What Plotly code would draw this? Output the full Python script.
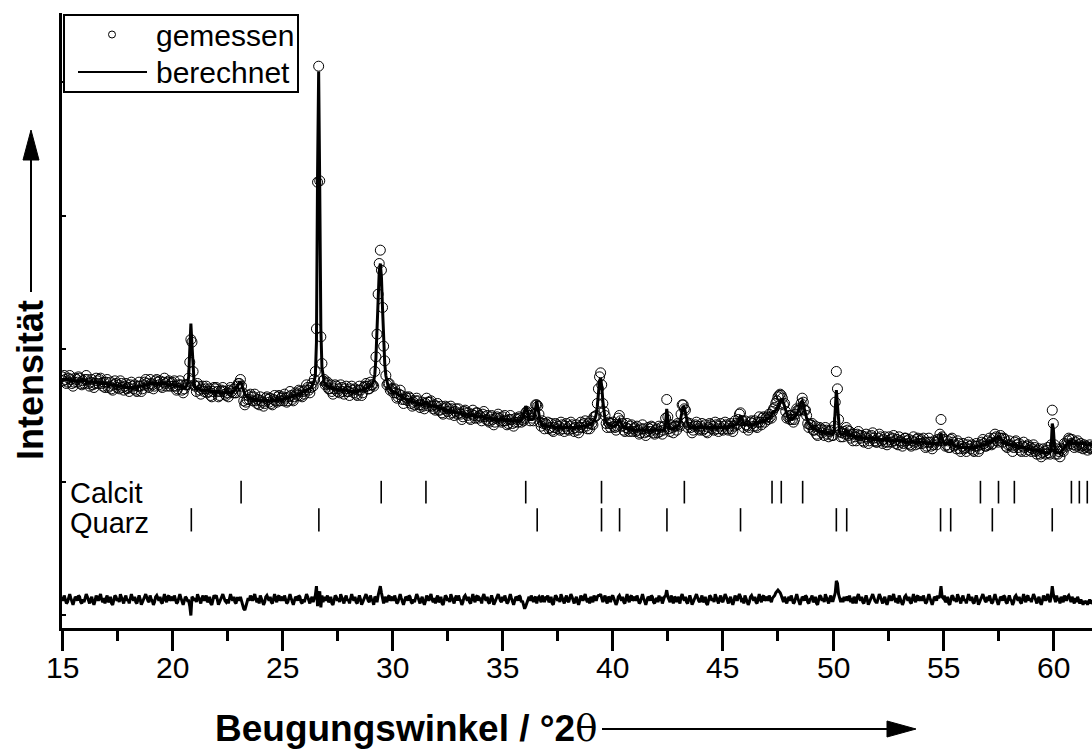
import numpy as np
import plotly.graph_objects as go

# Step scan: 15.00 ... 61.80 °2θ in 0.05° steps
TWO_THETA_START = 15.0
TWO_THETA_STEP = 0.05

# Measured intensity (one row per degree, 20 steps each)
I_OBS = [
    179, 176, 180, 177, 174, 175, 178, 180, 177, 174, 172, 175, 178, 177, 175, 179, 178, 174, 173, 176,
    174, 177, 180, 177, 174, 172, 175, 177, 173, 171, 174, 178, 176, 174, 177, 178, 174, 172, 175, 171,
    175, 177, 171, 172, 175, 170, 169, 173, 176, 174, 171, 173, 170, 176, 174, 171, 169, 172, 174, 170,
    171, 168, 173, 175, 172, 170, 173, 169, 168, 172, 175, 172, 168, 170, 173, 175, 177, 174, 172, 171,
    177, 174, 173, 170, 172, 176, 177, 175, 173, 176, 172, 171, 175, 178, 174, 172, 175, 176, 172, 174,
    175, 172, 176, 172, 169, 170, 173, 176, 173, 169, 167, 170, 173, 173, 173, 178, 190, 207, 205, 183,
    173, 172, 168, 174, 172, 169, 166, 170, 172, 168, 170, 172, 167, 168, 170, 165, 164, 168, 171, 170,
    171, 168, 164, 165, 168, 169, 171, 168, 166, 165, 167, 164, 169, 171, 168, 167, 170, 167, 167, 172,
    174, 174, 177, 172, 167, 161, 158, 160, 162, 165, 162, 166, 164, 161, 164, 166, 161, 159, 162, 158,
    164, 161, 160, 157, 159, 163, 164, 162, 160, 163, 159, 158, 162, 165, 161, 160, 164, 165, 161, 163,
    164, 161, 166, 163, 160, 161, 164, 168, 165, 162, 161, 164, 167, 166, 165, 169, 168, 165, 164, 168,
    166, 169, 173, 171, 169, 167, 171, 174, 172, 177, 183, 215, 325, 412, 326, 209, 189, 176, 177, 173,
    174, 175, 170, 170, 173, 168, 166, 170, 173, 172, 168, 170, 167, 173, 171, 168, 166, 170, 172, 168,
    168, 165, 170, 172, 169, 167, 170, 166, 165, 169, 172, 169, 165, 167, 171, 172, 174, 172, 170, 170,
    175, 173, 173, 172, 183, 194, 211, 241, 264, 274, 259, 231, 202, 191, 180, 173, 174, 174, 169, 170,
    170, 167, 170, 167, 163, 164, 166, 169, 165, 162, 159, 162, 164, 163, 161, 164, 163, 159, 157, 160,
    158, 161, 163, 161, 158, 156, 158, 160, 157, 155, 159, 163, 160, 157, 160, 161, 157, 155, 158, 154,
    157, 159, 154, 154, 157, 152, 151, 155, 157, 156, 153, 155, 151, 157, 155, 152, 150, 153, 155, 151,
    155, 152, 151, 147, 149, 153, 154, 152, 150, 152, 148, 147, 151, 154, 150, 148, 152, 152, 148, 150,
    149, 146, 151, 153, 149, 147, 150, 146, 145, 149, 150, 147, 143, 145, 148, 149, 151, 148, 146, 145,
    149, 146, 150, 146, 143, 144, 147, 150, 147, 144, 142, 145, 148, 147, 145, 149, 148, 145, 147, 146,
    148, 152, 153, 152, 150, 146, 150, 148, 146, 151, 158, 158, 157, 151, 145, 142, 146, 144, 140, 144,
    143, 145, 140, 141, 144, 139, 138, 141, 144, 143, 140, 142, 139, 145, 143, 140, 138, 142, 144, 140,
    139, 142, 145, 143, 140, 138, 141, 143, 139, 137, 141, 145, 143, 141, 144, 146, 142, 140, 144, 140,
    146, 144, 143, 149, 149, 150, 159, 170, 179, 182, 173, 159, 153, 150, 144, 141, 145, 144, 141, 144,
    145, 142, 141, 139, 142, 148, 150, 146, 142, 144, 139, 138, 141, 144, 140, 138, 142, 143, 138, 140,
    141, 138, 142, 139, 136, 137, 140, 143, 140, 137, 135, 138, 141, 140, 138, 142, 141, 137, 136, 139,
    140, 137, 142, 138, 141, 136, 139, 142, 148, 162, 149, 140, 138, 143, 141, 137, 142, 142, 139, 144,
    143, 142, 151, 158, 158, 155, 154, 145, 141, 143, 144, 141, 137, 139, 142, 143, 145, 142, 140, 139,
    142, 144, 139, 140, 143, 138, 137, 141, 144, 143, 140, 142, 139, 145, 143, 140, 138, 142, 144, 140,
    139, 142, 145, 143, 140, 139, 142, 144, 140, 138, 142, 146, 144, 143, 147, 151, 152, 146, 146, 141,
    146, 143, 142, 139, 141, 145, 146, 144, 142, 146, 142, 141, 145, 149, 145, 143, 148, 149, 145, 148,
    149, 147, 151, 149, 148, 153, 155, 156, 159, 161, 164, 165, 166, 165, 163, 158, 159, 153, 148, 149,
    150, 147, 150, 147, 145, 147, 151, 155, 154, 154, 154, 159, 163, 160, 154, 154, 150, 144, 141, 143,
    143, 144, 139, 139, 142, 136, 135, 139, 141, 140, 137, 139, 135, 141, 139, 136, 134, 138, 139, 135,
    135, 142, 160, 183, 170, 147, 138, 134, 137, 134, 138, 136, 141, 139, 135, 138, 133, 136, 131, 136,
    134, 131, 136, 138, 135, 133, 135, 131, 130, 134, 136, 133, 129, 131, 134, 135, 137, 133, 131, 130,
    130, 133, 136, 134, 131, 129, 132, 134, 130, 128, 130, 134, 132, 130, 133, 135, 131, 129, 132, 128,
    134, 131, 130, 127, 129, 133, 133, 131, 129, 132, 128, 127, 131, 134, 130, 128, 132, 133, 129, 131,
    132, 129, 133, 130, 126, 127, 130, 133, 130, 127, 125, 128, 131, 130, 128, 132, 131, 136, 147, 134,
    131, 132, 127, 128, 131, 126, 126, 132, 133, 130, 127, 128, 125, 131, 129, 125, 123, 127, 129, 125,
    126, 123, 128, 130, 127, 125, 128, 124, 123, 127, 129, 127, 123, 125, 128, 130, 132, 129, 127, 127,
    131, 128, 133, 130, 128, 129, 133, 136, 134, 131, 130, 133, 135, 133, 130, 133, 132, 127, 126, 128,
    131, 128, 127, 123, 126, 130, 131, 128, 126, 129, 124, 123, 127, 130, 126, 123, 127, 128, 124, 126,
    123, 125, 128, 126, 123, 121, 124, 125, 121, 119, 122, 125, 123, 121, 124, 126, 122, 121, 128, 154,
    144, 128, 121, 125, 121, 123, 119, 125, 124, 123, 129, 128, 127, 131, 133, 132, 129, 132, 128, 126,
    130, 127, 131, 128, 126, 129, 127, 125, 128, 126, 127, 124, 126, 128, 125, 126, 127,
]

# Calculated (refined) profile on the same steps
I_CALC = [
    177, 177, 177, 177, 177, 177, 177, 176, 176, 176, 176, 176, 176, 176, 176, 176, 176, 176, 176, 176,
    176, 176, 176, 175, 175, 175, 175, 175, 175, 175, 175, 175, 175, 175, 175, 174, 174, 174, 174, 174,
    174, 174, 173, 173, 173, 173, 173, 173, 173, 172, 172, 172, 172, 172, 172, 172, 172, 171, 171, 171,
    171, 171, 171, 171, 171, 171, 171, 171, 171, 171, 172, 172, 172, 172, 172, 173, 173, 173, 173, 173,
    174, 174, 174, 174, 174, 174, 174, 174, 174, 174, 174, 174, 174, 174, 174, 174, 173, 173, 173, 173,
    173, 173, 173, 172, 172, 172, 172, 172, 172, 171, 171, 171, 171, 172, 174, 179, 195, 219, 203, 182,
    174, 171, 170, 170, 170, 170, 169, 169, 169, 169, 169, 169, 169, 169, 168, 168, 168, 168, 168, 168,
    168, 168, 168, 167, 167, 167, 167, 167, 167, 167, 167, 167, 167, 167, 167, 168, 168, 169, 170, 171,
    173, 175, 175, 174, 171, 168, 166, 165, 164, 164, 163, 163, 163, 162, 162, 162, 161, 161, 161, 161,
    161, 161, 161, 161, 161, 161, 161, 161, 161, 161, 161, 161, 161, 161, 161, 162, 162, 162, 162, 162,
    162, 162, 163, 163, 163, 163, 163, 164, 164, 164, 165, 165, 165, 165, 166, 166, 166, 167, 167, 168,
    168, 168, 169, 169, 170, 170, 171, 172, 174, 176, 180, 205, 330, 408, 320, 215, 186, 178, 175, 174,
    173, 172, 172, 171, 171, 171, 170, 170, 170, 170, 169, 169, 169, 169, 169, 169, 169, 169, 169, 169,
    168, 168, 168, 168, 168, 168, 168, 168, 168, 168, 169, 169, 169, 169, 170, 170, 170, 171, 171, 172,
    172, 173, 174, 176, 181, 193, 213, 238, 258, 264, 254, 230, 205, 189, 180, 175, 172, 171, 170, 169,
    168, 168, 167, 167, 166, 166, 165, 165, 164, 164, 163, 163, 162, 162, 162, 161, 161, 161, 160, 160,
    160, 160, 159, 159, 159, 159, 158, 158, 159, 159, 160, 160, 159, 158, 158, 157, 157, 157, 157, 157,
    156, 156, 156, 155, 155, 155, 155, 155, 154, 154, 154, 154, 153, 153, 153, 153, 153, 152, 152, 152,
    152, 152, 152, 151, 151, 151, 151, 151, 151, 150, 150, 150, 150, 150, 150, 150, 150, 149, 149, 149,
    149, 149, 149, 149, 148, 148, 148, 148, 148, 148, 147, 147, 147, 147, 147, 147, 147, 147, 147, 147,
    147, 147, 147, 146, 146, 146, 146, 146, 146, 146, 146, 146, 146, 146, 146, 146, 146, 147, 148, 150,
    155, 157, 155, 151, 148, 147, 147, 147, 148, 150, 156, 161, 156, 149, 146, 144, 143, 143, 142, 142,
    142, 142, 142, 142, 142, 142, 142, 141, 141, 141, 141, 141, 141, 141, 141, 141, 141, 141, 141, 141,
    141, 141, 141, 141, 141, 141, 141, 141, 141, 141, 142, 142, 142, 142, 142, 142, 142, 142, 143, 143,
    144, 144, 145, 146, 148, 151, 157, 167, 176, 178, 172, 161, 152, 147, 145, 144, 143, 143, 143, 142,
    142, 142, 142, 143, 144, 146, 147, 145, 143, 142, 141, 141, 140, 140, 140, 140, 140, 140, 139, 139,
    139, 139, 139, 139, 139, 139, 139, 139, 139, 139, 139, 139, 139, 139, 139, 139, 139, 139, 139, 139,
    139, 139, 139, 139, 139, 139, 139, 140, 145, 155, 147, 141, 140, 140, 140, 140, 140, 141, 141, 142,
    143, 145, 149, 154, 157, 156, 152, 147, 144, 142, 141, 141, 141, 141, 141, 141, 141, 141, 141, 141,
    141, 141, 141, 141, 141, 141, 141, 141, 141, 141, 141, 141, 141, 141, 141, 141, 141, 141, 141, 141,
    141, 141, 141, 141, 141, 142, 142, 142, 142, 142, 143, 143, 143, 144, 145, 147, 150, 148, 145, 144,
    143, 143, 143, 143, 143, 143, 143, 143, 143, 144, 144, 144, 144, 145, 145, 145, 146, 146, 146, 147,
    147, 148, 148, 149, 150, 152, 153, 153, 154, 155, 157, 159, 161, 162, 162, 160, 157, 154, 151, 149,
    148, 148, 147, 147, 148, 149, 150, 151, 153, 156, 158, 160, 161, 159, 155, 151, 148, 146, 144, 143,
    142, 141, 141, 140, 140, 139, 139, 139, 138, 138, 138, 138, 137, 137, 137, 137, 137, 137, 136, 136,
    136, 140, 155, 169, 158, 143, 137, 136, 136, 136, 136, 137, 139, 138, 136, 135, 135, 135, 134, 134,
    134, 134, 134, 134, 134, 134, 133, 133, 133, 133, 133, 133, 133, 133, 133, 133, 133, 132, 132, 132,
    132, 132, 132, 132, 132, 132, 132, 132, 132, 132, 131, 131, 131, 131, 131, 131, 131, 131, 131, 131,
    131, 131, 131, 131, 131, 131, 130, 130, 130, 130, 130, 130, 130, 130, 130, 130, 130, 130, 130, 130,
    130, 130, 130, 130, 129, 129, 129, 129, 129, 129, 129, 129, 129, 129, 129, 129, 130, 133, 137, 132,
    130, 129, 129, 129, 129, 129, 130, 132, 130, 128, 128, 127, 127, 127, 127, 126, 126, 126, 126, 126,
    126, 126, 126, 126, 126, 126, 126, 126, 126, 126, 126, 127, 127, 127, 127, 128, 128, 128, 128, 129,
    129, 129, 130, 130, 131, 131, 132, 132, 133, 133, 134, 134, 133, 132, 131, 130, 130, 129, 129, 128,
    128, 128, 128, 127, 128, 128, 128, 127, 127, 127, 126, 126, 126, 126, 126, 125, 125, 125, 125, 125,
    125, 124, 124, 124, 124, 124, 124, 123, 123, 123, 123, 122, 122, 122, 122, 122, 122, 123, 126, 144,
    140, 127, 123, 122, 122, 122, 122, 123, 124, 125, 126, 127, 128, 129, 130, 131, 131, 130, 129, 129,
    129, 129, 129, 129, 129, 129, 129, 129, 129, 129, 128, 128, 128, 128, 128, 128, 128,
]

# Reflection positions (°2θ) of the two phases
CALCIT_POS = [23.13, 29.49, 31.52, 36.05, 39.49, 43.25, 47.23, 47.65, 48.62,
              56.69, 57.51, 58.23, 60.82, 61.18, 61.54]
QUARZ_POS = [20.87, 26.66, 36.57, 39.49, 40.31, 42.46, 45.80, 50.15, 50.62,
             54.88, 55.34, 57.23, 59.95]

PHASE_NAMES = ["Calcit", "Quarz"]
SERIES_NAMES = ["gemessen", "berechnet"]
X_TICKS = [15, 20, 25, 30, 35, 40, 45, 50, 55, 60]

# Offset of the difference curve and vertical span of the reflection markers
DIFF_OFFSET = 12
CALCIT_ROW = (101, 84)
QUARZ_ROW = (80.5, 63)

FONT = "Liberation Sans, Arial, Helvetica, sans-serif"

x = np.round(TWO_THETA_START + TWO_THETA_STEP * np.arange(len(I_OBS)), 2)
obs = np.array(I_OBS, dtype=float)
calc = np.array(I_CALC, dtype=float)
diff = obs - calc + DIFF_OFFSET


def marker_segments(positions, row):
    xs, ys = [], []
    for p in positions:
        xs += [p, p, None]
        ys += [row[0], row[1], None]
    return xs, ys


fig = go.Figure()

fig.add_trace(go.Scatter(
    x=x, y=obs, mode="markers", name=SERIES_NAMES[0],
    marker=dict(symbol="circle-open", size=10, color="black",
                line=dict(color="black", width=1)),
))
fig.add_trace(go.Scatter(
    x=x, y=calc, mode="lines", name=SERIES_NAMES[1],
    line=dict(color="black", width=3),
))
fig.add_trace(go.Scatter(
    x=x, y=diff, mode="lines",
    line=dict(color="black", width=3),
))

for pos, row in ((CALCIT_POS, CALCIT_ROW), (QUARZ_POS, QUARZ_ROW)):
    sx, sy = marker_segments(pos, row)
    fig.add_trace(go.Scatter(x=sx, y=sy, mode="lines",
                             line=dict(color="black", width=1.6)))

# plot-area geometry (pixels) for the paper-referenced decorations
W, H = 1092, 749
ML, MR, MT, MB = 62, 0, 13, 121
PW, PH = W - ML - MR, H - MT - MB


def px(xp):
    return (xp - ML) / PW


def py(yp):
    return (H - MB - yp) / PH


def text(s, xp, y, yref="paper", size=29, **kw):
    return dict(text=s, x=px(xp), y=y, xref="paper", yref=yref,
                xanchor=kw.pop("xanchor", "left"), yanchor="middle",
                showarrow=False, font=dict(family=FONT, size=size, color="black"), **kw)


annotations = [
    text(PHASE_NAMES[0], 68, 91.5, yref="y"),
    text(PHASE_NAMES[1], 68, 69.5, yref="y"),
    # legend labels
    text(SERIES_NAMES[0], 154, py(35), size=30),
    text(SERIES_NAMES[1], 154, py(72), size=30),
    # axis titles
    text("<b>Beugungswinkel / °2</b><span style='font-family:DejaVu Serif'>θ</span>",
         599, py(728), size=37, xanchor="right"),
    dict(text="<b>Intensität</b>", textangle=-90,
         x=px(31), y=py(380), xref="paper", yref="paper",
         xanchor="center", yanchor="middle", showarrow=False,
         font=dict(family=FONT, size=36, color="black")),
]

# x tick labels, set just below the long major ticks
for t in X_TICKS:
    annotations.append(dict(text=str(t), x=t, y=py(667), xref="x", yref="paper",
                            xanchor="center", yanchor="middle", showarrow=False,
                            font=dict(family=FONT, size=30, color="black")))

shapes = [
    # legend frame and keys
    dict(type="rect", xref="paper", yref="paper", layer="above",
         x0=px(64), x1=px(298), y0=py(15), y1=py(92),
         fillcolor="white", line=dict(color="black", width=2)),
    dict(type="circle", xref="paper", yref="paper", layer="above",
         x0=px(108.5), x1=px(115.5), y0=py(31), y1=py(38),
         line=dict(color="black", width=1)),
    dict(type="line", xref="paper", yref="paper", layer="above",
         x0=px(78), x1=px(147), y0=py(72), y1=py(72),
         line=dict(color="black", width=2)),
    # arrow along the x title
    dict(type="line", xref="paper", yref="paper",
         x0=px(602), x1=px(892), y0=py(729), y1=py(729),
         line=dict(color="black", width=2)),
    dict(type="path", xref="paper", yref="paper", fillcolor="black",
         line=dict(color="black", width=1),
         path=f"M {px(887)},{py(721)} L {px(916)},{py(729)} L {px(887)},{py(737)} Z"),
    # arrow along the y title
    dict(type="line", xref="paper", yref="paper",
         x0=px(31), x1=px(31), y0=py(292), y1=py(156),
         line=dict(color="black", width=2)),
    dict(type="path", xref="paper", yref="paper", fillcolor="black",
         line=dict(color="black", width=1),
         path=f"M {px(23)},{py(160)} L {px(31)},{py(130)} L {px(39)},{py(160)} Z"),
]

fig.update_layout(
    width=W, height=H,
    margin=dict(l=ML, r=MR, t=MT, b=MB, pad=0),
    paper_bgcolor="white", plot_bgcolor="white",
    font=dict(family=FONT, size=30, color="black"),
    showlegend=False,
    annotations=annotations,
    shapes=shapes,
)

fig.update_xaxes(
    range=[TWO_THETA_START, TWO_THETA_START + PW / 22.03],
    tickvals=X_TICKS, showticklabels=False,
    ticks="outside", ticklen=20, tickwidth=2.5, tickcolor="black",
    minor=dict(dtick=2.5, tick0=15, ticks="outside", ticklen=10,
               tickwidth=2.5, tickcolor="black"),
    showline=True, linecolor="black", linewidth=3,
    showgrid=False, zeroline=False,
)
fig.update_yaxes(
    range=[-9.4, 451.9],
    tickvals=[0, 100, 200, 300, 400],
    ticks="inside", ticklen=4, tickwidth=2, tickcolor="black",
    showticklabels=False,
    showline=True, linecolor="black", linewidth=3,
    showgrid=False, zeroline=False,
)

fig.write_html("out.html")
